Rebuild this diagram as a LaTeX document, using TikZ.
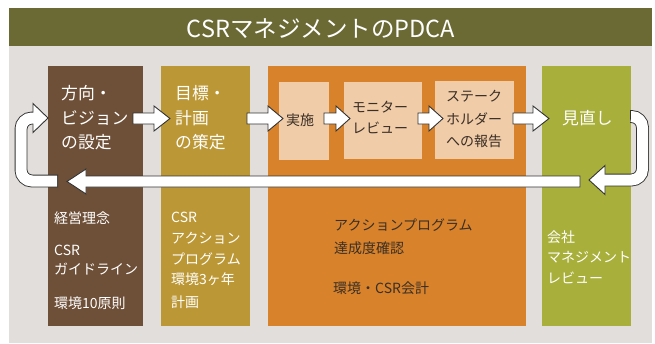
\documentclass[tikz,border=0pt]{standalone}
\usepackage{fontspec}
\setmainfont{Noto Sans CJK JP}
\newfontfamily\jp{Noto Sans CJK JP}
\definecolor{titlec}{HTML}{6B6A35}
\definecolor{bgc}{HTML}{E2DEDB}
\definecolor{brownc}{HTML}{6E4F37}
\definecolor{goldc}{HTML}{BB9735}
\definecolor{orangec}{HTML}{D8832B}
\definecolor{peachc}{HTML}{F0CCA8}
\definecolor{greenc}{HTML}{A8AF3A}
\definecolor{darktext}{HTML}{3A2E25}
\definecolor{edgec}{HTML}{333333}
\newcommand\blockarr[4]{%
  \draw[arrowline] (#1,#4-5.5) -- (#2,#4-5.5) -- (#2,#4-12.5) -- (#3,#4) -- (#2,#4+12.5) -- (#2,#4+5.5) -- (#1,#4+5.5) -- cycle;}
\tikzset{
  box/.style={anchor=north west, inner sep=0pt, outer sep=0pt, draw=none},
  arrowline/.style={fill=white, draw=edgec, line width=0.9pt, line join=miter},
  bigw/.style={anchor=base west, inner sep=0pt, text=white, font=\jp\fontsize{16.8}{20}\selectfont},
  smallw/.style={anchor=base west, inner sep=0pt, text=white, font=\jp\fontsize{14}{16}\selectfont},
  smalld/.style={anchor=base west, inner sep=0pt, text=darktext, font=\jp\fontsize{14}{16}\selectfont},
}
\begin{document}
\begin{tikzpicture}[x=1pt,y=-1pt]
\useasboundingbox (0,0) rectangle (655,343);
% background and title
\node[box, fill=bgc, minimum width=643, minimum height=297] (bg) at (9,46) {};
\node[box, fill=titlec, minimum width=643, minimum height=38] (bar) at (9,8) {};
\node[anchor=base, inner sep=0pt, text=white, font=\jp\fontsize{23.5}{26}\selectfont] (title) at (321,37) {CSRマネジメントのPDCA};
% columns
\node[box, fill=brownc, minimum width=95, minimum height=260] (plan) at (48,66) {};
\node[box, fill=goldc, minimum width=89, minimum height=260] (plan2) at (161,66) {};
\node[box, fill=orangec, minimum width=258, minimum height=260] (do) at (268,66) {};
\node[box, fill=greenc, minimum width=89, minimum height=260] (act) at (542,66) {};
\node[box, fill=peachc, minimum width=50, minimum height=78] (p1) at (279,82) {};
\node[box, fill=peachc, minimum width=78, minimum height=77] (p2) at (344,82) {};
\node[box, fill=peachc, minimum width=79, minimum height=78] (p3) at (435,81) {};
% top texts
\node[bigw] (t1a) at (61,99.5) {方向・};
\node[bigw] (t1b) at (61,124.5) {ビジョン};
\node[bigw] (t1c) at (61,148.5) {の設定};
\node[bigw] (t2a) at (175,99.5) {目標・};
\node[bigw] (t2b) at (175,124.5) {計画};
\node[bigw] (t2c) at (175,148.5) {の策定};
\node[smalld] (t3) at (286,125.5) {実施};
\node[smalld] (t4a) at (352,112.5) {モニター};
\node[smalld] (t4b) at (352,133.5) {レビュー};
\node[smalld] (t5a) at (446,101.5) {ステーク};
\node[smalld] (t5b) at (446,124.5) {ホルダー};
\node[smalld] (t5c) at (446,146.5) {への報告};
\node[bigw] (t6) at (562,124.5) {見直し};
% bottom texts
\node[smallw] (b1a) at (54,223.5) {経営理念};
\node[smallw] (b1b) at (54,255.5) {CSR};
\node[smallw] (b1c) at (54,274.5) {ガイドライン};
\node[smallw] (b1d) at (54,308.5) {環境10原則};
\node[smallw] (b2a) at (171,222.5) {CSR};
\node[smallw] (b2b) at (171,243) {アクション};
\node[smallw] (b2c) at (171,264.5) {プログラム};
\node[smallw] (b2d) at (171,284.5) {環境3ヶ年};
\node[smallw] (b2e) at (171,307.5) {計画};
\node[smalld] (b3a) at (334,230.5) {アクションプログラム};
\node[smalld] (b3b) at (334,253.5) {達成度確認};
\node[smalld] (b3c) at (333,293.5) {環境・CSR会計};
\node[smallw] (b4a) at (547,242.5) {会社};
\node[smallw] (b4b) at (547,262.5) {マネジメント};
\node[smallw] (b4c) at (547,283.5) {レビュー};
% straight block arrows
\blockarr{133}{154}{170}{118.5}
\blockarr{247}{268}{283}{118.5}
\blockarr{324}{336}{350}{118.5}
\blockarr{418}{429}{443}{118.5}
\blockarr{513}{533}{549}{118.5}
\blockarr{580}{86}{67}{181.5}
% right U-turn
\draw[edgec, line width=12.8pt, rounded corners=11pt] (630,116.5) -- (642.5,116.5) -- (642.5,180) -- (605,180);
\draw[arrowline] (605,165.5) -- (589,180) -- (605,194.5) -- cycle;
\draw[white, line width=11pt, rounded corners=11pt] (631,116.5) -- (642.5,116.5) -- (642.5,180) -- (603.5,180);
% left U-turn
\draw[edgec, line width=12.8pt, rounded corners=11pt] (58,181) -- (21,181) -- (21,118) -- (33,118);
\draw[arrowline] (33,103.5) -- (48,118) -- (33,132.5) -- cycle;
\draw[white, line width=11pt, rounded corners=11pt] (57,181) -- (21,181) -- (21,118) -- (34.5,118);
\end{tikzpicture}
\end{document}
